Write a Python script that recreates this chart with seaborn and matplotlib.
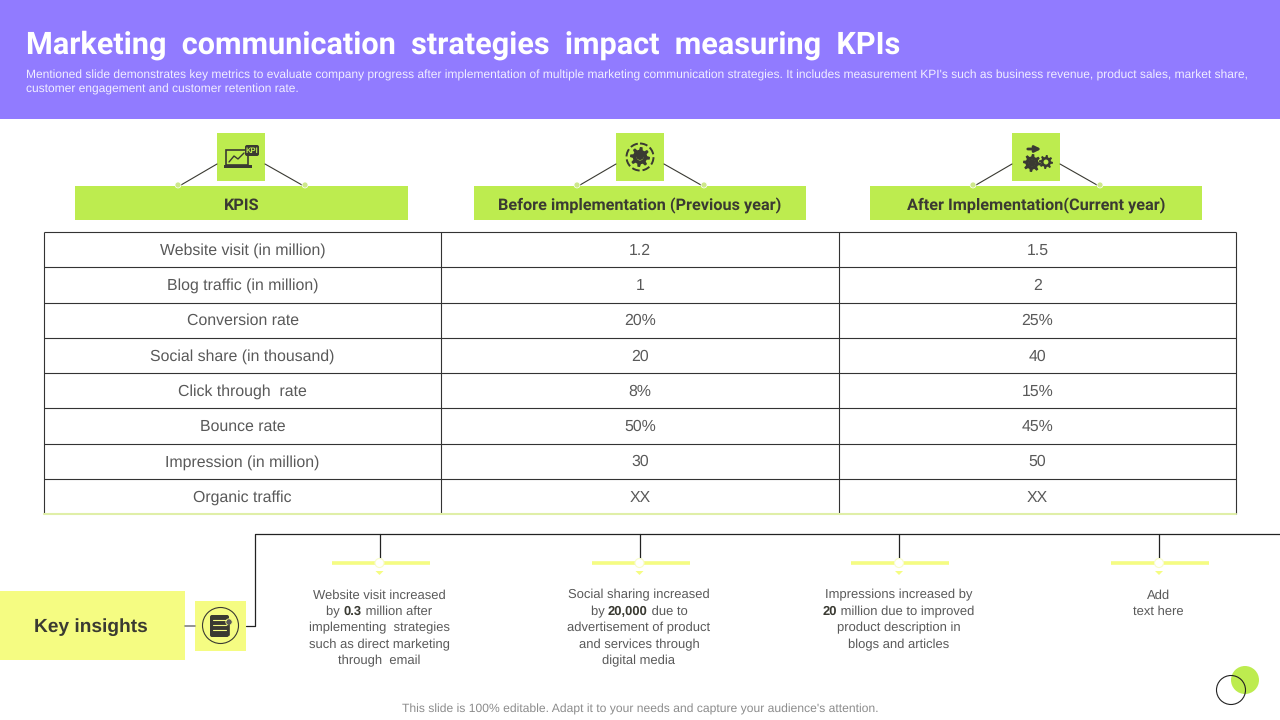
import numpy as np
import matplotlib
matplotlib.use("Agg")
import matplotlib.pyplot as plt
from matplotlib.patches import Rectangle, Circle, Polygon, FancyBboxPatch
from matplotlib.colors import ListedColormap
import seaborn as sns

title = "Marketing  communication  strategies  impact  measuring  KPIs"
subtitle = ["Mentioned slide demonstrates key metrics to evaluate company progress after implementation of multiple marketing communication strategies. It includes measurement KPI's such as business revenue, product sales, market share,",
            "customer engagement and customer retention rate."]
headers = ["KPIS", "Before implementation (Previous year)", "After Implementation(Current year)"]
kpis = ["Website visit (in million)", "Blog traffic (in million)", "Conversion rate",
        "Social share (in thousand)", "Click through  rate", "Bounce rate",
        "Impression (in million)", "Organic traffic"]
before = ["1.2", "1", "20%", "20", "8%", "50%", "30", "XX"]
after = ["1.5", "2", "25%", "40", "15%", "45%", "50", "XX"]
# parts between ** are bold
insights = [
    ["Website visit increased", "by **0.3** million after", "implementing  strategies", "such as direct marketing", "through  email"],
    ["Social sharing increased", "by **20,000** due to", "advertisement of product", "and services through", "digital media"],
    ["Impressions increased by", "**20** million due to improved", "product description in", "blogs and articles"],
    ["Add", "text here"],
]
footer = "This slide is 100% editable. Adapt it to your needs and capture your audience's attention."

PURPLE = "#917BFF"
LIME = "#BDEC4F"
YELLOW = "#F5FC82"
DARK = "#3A3A32"
GREY = "#595959"
LINE = "#333333"

sns.set_theme(style="white")
plt.rcParams["font.family"] = ["Liberation Sans", "DejaVu Sans"]
plt.rcParams["text.hinting"] = "no_hinting"

W, H = 1280, 720


def draw_gear(ax, cx, cy, r, color=DARK):
    angles = np.linspace(0, 2 * np.pi, 48, endpoint=False)
    radii = np.where(np.arange(48) % 6 < 3, r, r * 0.72)
    ax.add_patch(Polygon(np.c_[cx + radii * np.cos(angles), cy + radii * np.sin(angles)], color=color, lw=0))
    ax.add_patch(Circle((cx, cy), r * 0.35, color=LIME, lw=0))


def draw_header(ax, x0, x1, icon_x, label):
    ax.add_patch(Rectangle((x0, 186), x1 - x0, 34, color=LIME, lw=0))
    ax.add_patch(Rectangle((icon_x - 24, 133), 48, 48, color=LIME, lw=0))
    ax.plot([icon_x - 60, icon_x - 24], [185, 164], color=DARK, lw=0.8)
    ax.plot([icon_x + 24, icon_x + 61], [164, 185], color=DARK, lw=0.8)
    for dx in (-63, 64):
        ax.add_patch(Circle((icon_x + dx, 185), 3, facecolor="#CDE88A", edgecolor="white", lw=0.5, zorder=3))
    ax.text((x0 + x1) / 2, 205.5, label, ha="center", va="center", color=DARK, fontsize=11.7,
            fontweight="bold", family=["Roboto", "Liberation Sans"])


def text_width(ax, s, weight, size):
    # bars keep the spaces at the ends of a part in the measure
    renderer = ax.figure.canvas.get_renderer()
    probe = ax.text(0, 0, "|" + s + "|", fontsize=size, fontweight=weight)
    bar = ax.text(0, 0, "||", fontsize=size, fontweight=weight)
    width = probe.get_window_extent(renderer).width - bar.get_window_extent(renderer).width
    probe.remove()
    bar.remove()
    return width


def draw_mixed_line(ax, cx, y, line, size):
    parts = line.split("**")
    weights = ["bold" if i % 2 else "normal" for i in range(len(parts))]
    widths = [text_width(ax, p, w, size) if p else 0 for p, w in zip(parts, weights)]
    x = cx - sum(widths) / 2
    for part, weight, width in zip(parts, weights, widths):
        if part:
            ax.text(x, y, part, ha="left", va="center_baseline", fontsize=size, fontweight=weight,
                    color=DARK if weight == "bold" else GREY)
        x += width


fig = plt.figure(figsize=(W / 100, H / 100), dpi=100, facecolor="white")
ax = fig.add_axes([0, 0, 1, 1])
ax.set_xlim(0, W)
ax.set_ylim(H, 0)
ax.axis("off")

# banner
ax.add_patch(Rectangle((0, 0), W, 119, color=PURPLE, lw=0))
ax.text(26, 45, title, color="white", fontsize=22.1, fontweight="bold", va="center", ha="left",
        family=["Roboto", "Liberation Sans"])
for y, line in zip((75.5, 89.5), subtitle):
    ax.text(26, y, line, color="#F1EEFF", fontsize=8.64, va="center", ha="left")

# column headers
draw_header(ax, 75, 408, 241, headers[0])
draw_header(ax, 474, 806, 640, headers[1])
draw_header(ax, 870, 1202, 1036, headers[2])

# header icons
ax.add_patch(Rectangle((226, 150), 22, 15, facecolor="none", edgecolor=DARK, lw=1.2))
ax.plot([229, 234, 238, 244], [162, 156, 159, 153], color=DARK, lw=1)
ax.add_patch(Rectangle((224, 165), 28, 3, color=DARK, lw=0))
ax.add_patch(FancyBboxPatch((245, 145), 14, 11, boxstyle="round,pad=0,rounding_size=2", color=DARK, lw=0))
ax.text(252, 150.5, "KPI", color=LIME, fontsize=5.5, fontweight="bold", ha="center", va="center")
draw_gear(ax, 640, 157, 10)
ax.add_patch(Circle((640, 157), 13.5, facecolor="none", edgecolor=DARK, lw=1.4, ls=(0, (4, 1.5))))
ax.add_patch(Circle((640, 156), 4, color=DARK, lw=0))
draw_gear(ax, 1032, 163, 9)
ax.add_patch(Circle((1032, 163), 3.5, color=DARK, lw=0))
draw_gear(ax, 1046, 162, 7)
ax.annotate("", xy=(1044, 149), xytext=(1025, 149),
            arrowprops=dict(arrowstyle="-|>", color=DARK, lw=2, mutation_scale=9))

# table
table_ax = fig.add_axes([44 / W, 1 - 514 / H, (1236 - 44) / W, (514 - 232) / H])
labels = np.array([kpis, before, after]).T
sns.heatmap(np.zeros(labels.shape), ax=table_ax, cmap=ListedColormap(["white"]), cbar=False,
            annot=labels, fmt="", annot_kws={"fontsize": 11.4, "color": GREY},
            linewidths=0, xticklabels=False, yticklabels=False)
table_ax.set_xlabel("")
table_ax.set_ylabel("")
for txt in table_ax.texts:
    txt.set_y(txt.get_position()[1] + 0.03)
table_ax.hlines(np.arange(labels.shape[0]), 0, 3, color=LINE, lw=0.8, clip_on=False)
table_ax.vlines(np.arange(labels.shape[1] + 1), 0, labels.shape[0], color=LINE, lw=0.8, clip_on=False)
table_ax.plot([0, 3], [8, 8], color="#E0EFA8", lw=1.5, clip_on=False, zorder=5)

# key insights block
ax.add_patch(Rectangle((0, 591), 185, 69, color=YELLOW, lw=0))
ax.text(90.5, 627, "Key insights", fontsize=13.8, fontweight="bold", color=DARK, ha="center", va="center")
ax.plot([185, 195], [626, 626], color="#808080", lw=1.2)
ax.add_patch(Rectangle((195, 601), 51, 50, color=YELLOW, lw=0))
ax.add_patch(Circle((220.5, 625.5), 18, facecolor="none", edgecolor=DARK, lw=0.8))
ax.add_patch(FancyBboxPatch((210, 615), 19, 22, boxstyle="round,pad=0,rounding_size=2", color=DARK, lw=0))
for y in (620, 625, 630):
    ax.plot([213, 226], [y, y], color=YELLOW, lw=0.8)
ax.add_patch(Circle((229, 622), 3.2, facecolor=GREY, edgecolor=YELLOW, lw=0.6))
ax.plot([229, 229], [625, 635], color=DARK, lw=1.2)

# connector tree
ax.plot([246, 255, 255, 1280], [626, 626, 534, 534], color="#222222", lw=0.9)
for cx, lines in zip((379.5, 639.5, 899, 1159), insights):
    ax.plot([cx, cx], [534, 559], color="#222222", lw=0.9)
    ax.plot([cx - 48, cx + 50], [563, 563], color=YELLOW, lw=2.6, solid_capstyle="butt", zorder=2)
    ax.add_patch(Circle((cx, 563), 4.5, facecolor="white", edgecolor="#F9FDC8", lw=0.8, zorder=3))
    ax.add_patch(Polygon([[cx - 4, 571], [cx + 4, 571], [cx, 575]], color=YELLOW, lw=0))
    for i, line in enumerate(lines):
        draw_mixed_line(ax, cx - 0.5, 594 + i * 16.5, line, 9.4)

# footer and page mark
ax.text(640, 709.5, footer, ha="center", va="center", fontsize=8.7, color="#8C8C8C")
ax.add_patch(Circle((1245, 680), 14, color=LIME, lw=0))
ax.add_patch(Circle((1231, 690), 14.5, facecolor="none", edgecolor="#222222", lw=0.8, zorder=3))

fig.savefig("out.png", dpi=100, facecolor="white")
